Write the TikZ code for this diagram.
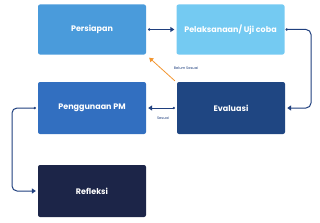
\documentclass[tikz,border=0pt]{standalone}
\usepackage{fontspec}
\setmainfont{Poppins}
\usetikzlibrary{arrows.meta}
\definecolor{cPers}{HTML}{4A9BDB}
\definecolor{cPel}{HTML}{74CAF2}
\definecolor{cPeng}{HTML}{326FC0}
\definecolor{cEval}{HTML}{1F4682}
\definecolor{cRef}{HTML}{1C2548}
\definecolor{cArr}{HTML}{1F3F7E}
\definecolor{cOr}{HTML}{F2952F}
\begin{document}
\begin{tikzpicture}[x=1pt,y=-1pt,
  box/.style={rounded corners=2pt,minimum width=108pt,minimum height=50pt,inner sep=0pt,text=white,font=\bfseries\fontsize{8}{9}\selectfont},
  conn/.style={draw=cArr,line width=1pt,-{Triangle[length=4pt,width=5pt]},rounded corners=5pt},
  lbl/.style={font=\fontsize{3.6}{4}\selectfont,text=cArr,inner sep=0pt}]
\useasboundingbox (0,0) rectangle (320,222);
\node[box,fill=cPers] (pers) at (92,29.5) {Persiapan};
\node[box,fill=cPel] (pel) at (230.5,29.5) {Pelaksanaan/ Uji coba};
\node[box,fill=cPeng,minimum height=52pt] (peng) at (92,108) {Penggunaan PM};
\node[box,fill=cEval,minimum height=52pt] (eval) at (231,108) {Evaluasi};
\node[box,fill=cRef,minimum height=52pt] (ref) at (92,191) {Refleksi};
\coordinate (p1) at ([xshift=3pt]pers.east);
\coordinate (p2) at ([xshift=-2pt]pel.west);
\fill[cArr] (p1) circle (1.3pt);
\draw[conn] (p1) -- (p2);
\coordinate (q1) at ([xshift=2pt]pel.east);
\fill[cArr] (q1) circle (1.3pt);
\draw[conn] (q1) -- (311,29.5) -- (311,108) -- ([xshift=2pt]eval.east);
\coordinate (e1) at ([xshift=-3pt]eval.west);
\fill[cArr] (e1) circle (1.3pt);
\draw[conn] (e1) -- ([xshift=2pt]peng.east);
\coordinate (g1) at ([xshift=-3pt]peng.west);
\fill[cArr] (g1) circle (1.3pt);
\draw[conn] (g1) -- (12,108) -- (12,191) -- ([xshift=-2pt]ref.west);
\coordinate (o1) at ([xshift=-2pt,yshift=1pt]eval.north west);
\coordinate (o2) at ([xshift=3pt,yshift=-3pt]pers.south east);
\draw[draw=cOr,line width=0.8pt,-{Triangle[length=4pt,width=5pt]}] (o1) -- (o2);
\node[lbl] (bs) at (186,68) {Belum Sesuai};
\node[lbl] (ss) at (163,118) {Sesuai};
\end{tikzpicture}
\end{document}
